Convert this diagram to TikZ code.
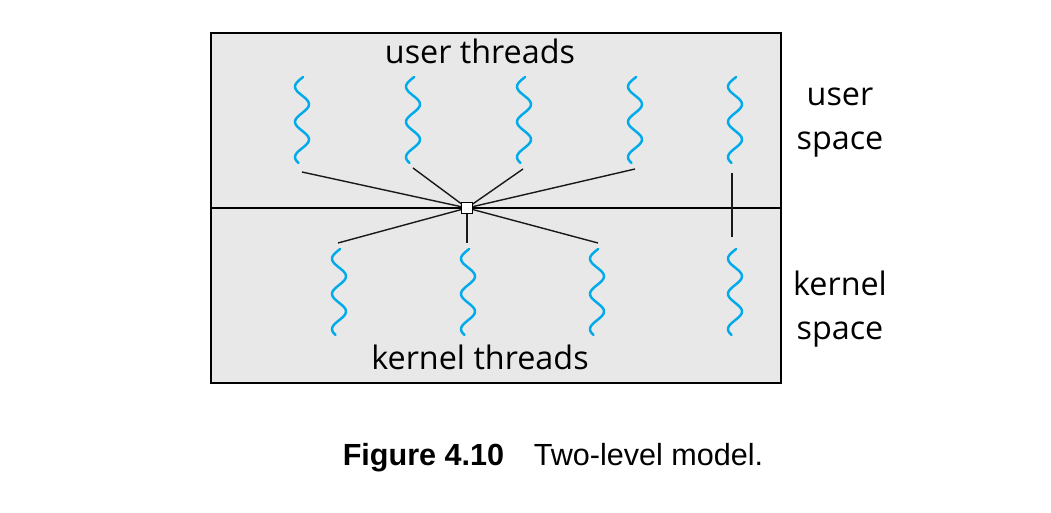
\documentclass[tikz,border=0pt]{standalone}
\usepackage{fontspec}
\setmainfont{Open Sans}
\newfontfamily\capfont{Liberation Sans}
\usepackage{xcolor}
\usetikzlibrary{positioning}
\definecolor{thrblue}{RGB}{0,170,235}
\definecolor{spacegray}{RGB}{232,232,232}

\begin{document}
\begin{tikzpicture}[x=0.02cm,y=0.02cm,font=\fontsize{18.4}{25}\selectfont,
  ln/.style={line width=0.8pt,black!90},
  wv/.style={thrblue,line width=1.4pt,line cap=round},
  thread/.pic={\draw[wv] plot[domain=0:86,samples=70,smooth]
    ({-7*cos(180*(\x-9.7)/17.6)},{-\x});},
  sq/.style={draw,fill=white,line width=0.8pt,minimum size=6.5pt,inner sep=0pt}]
\useasboundingbox (0,0) rectangle (1051,513);
% the two spaces
\draw[fill=spacegray,line width=1pt] (211,130) rectangle (781,480);
\draw[line width=1pt] (211,305) -- (781,305);
% user threads
\foreach \i/\cx in {1/302,2/413,3/524,4/635,5/735}
  \pic at (\cx,436) {thread};
% kernel threads
\foreach \i/\cx in {1/339,2/468,3/597,4/735}
  \pic at (\cx,264) {thread};
% line ends
\coordinate (u1) at (302,341);
\coordinate (u2) at (413,345);
\coordinate (u3) at (523,344);
\coordinate (u4) at (635,344);
\coordinate (u5) at (732,340);
\coordinate (k1) at (338,270);
\coordinate (k2) at (467,270);
\coordinate (k3) at (598,270);
\coordinate (k4) at (732,276);
% the multiplexer
\foreach \e in {u1,u2,u3,u4,k1,k2,k3}
  \draw[ln] (467,305) -- (\e);
\node[sq] (mux) at (467,305) {};
\draw[ln] (u5) -- (k4);
% labels
\node (ut) at (480,462) {user threads};
\node (kt) at (480,156) {kernel threads};
\node[align=center] (us) at (840,390) {user\\space};
\node[align=center] (ks) at (840,204) {kernel\\space};
\node (cap) at (553,55) {\capfont\fontsize{17.4}{20}\selectfont
  \textbf{Figure 4.10}\hspace{0.97em}Two-level model.};
\end{tikzpicture}
\end{document}
